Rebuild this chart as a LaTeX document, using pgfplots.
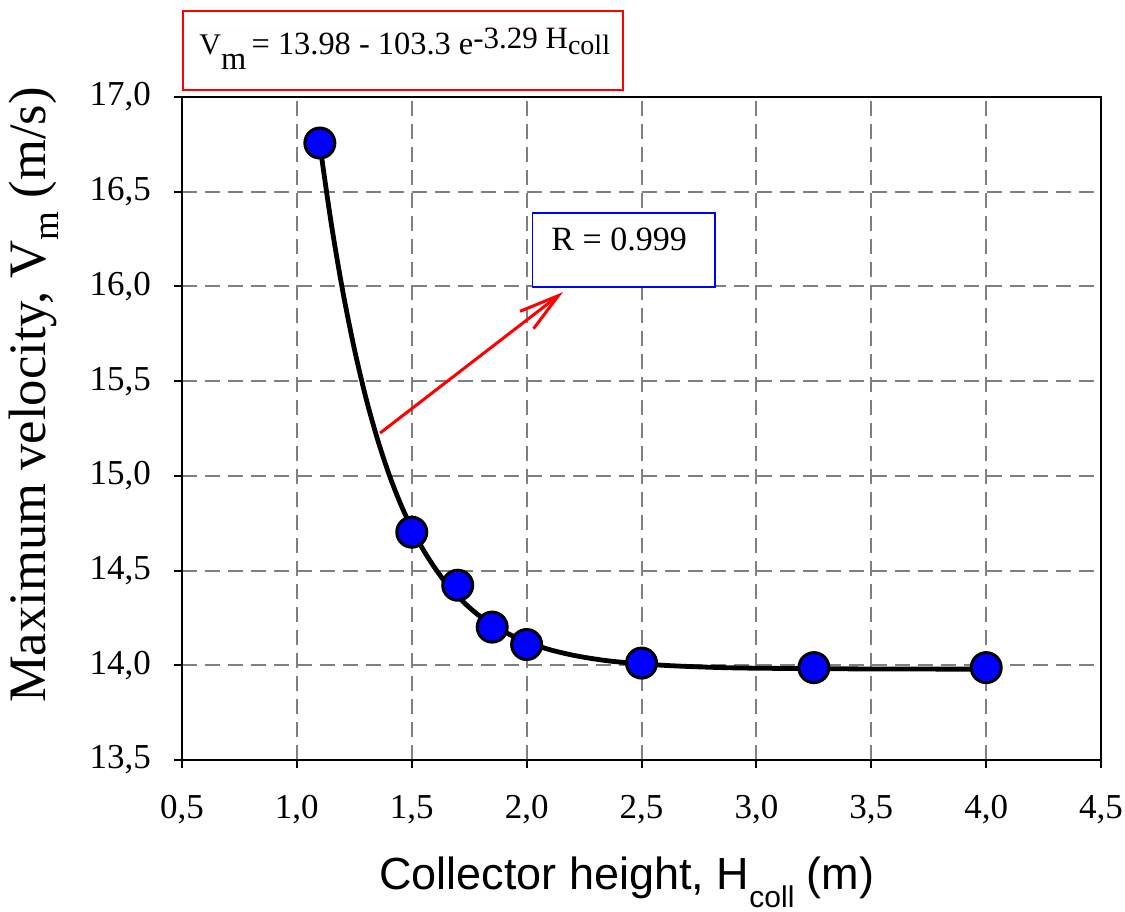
\documentclass[border=0pt]{standalone}
\usepackage{fontspec}
\setmainfont{Liberation Serif}
\newfontfamily\timesfont{Liberation Serif}
\newfontfamily\arialfont{Liberation Sans}
\usepackage{pgfplots}
\pgfplotsset{compat=1.18}
\usetikzlibrary{arrows.meta}

\definecolor{gridgray}{RGB}{128,128,128}
\definecolor{markblue}{RGB}{0,0,255}

\begin{document}
\begin{tikzpicture}
\begin{axis}[
    scale only axis,
    width=459.5bp, height=331.5bp,
    xmin=0.5, xmax=4.5, ymin=13.5, ymax=17,
    xtick={0.5,1.0,1.5,2.0,2.5,3.0,3.5,4.0,4.5},
    xticklabels={{0,5},{1,0},{1,5},{2,0},{2,5},{3,0},{3,5},{4,0},{4,5}},
    ytick={13.5,14.0,14.5,15.0,15.5,16.0,16.5,17.0},
    yticklabels={{13,5},{14,0},{14,5},{15,0},{15,5},{16,0},{16,5},{17,0}},
    clip=false,
    axis line style={line width=1bp},
    tick style={line width=1bp, black},
    major tick length=4bp,
    tick align=outside,
    xtick pos=bottom, ytick pos=left,
    grid=major,
    major grid style={gridgray, line width=1bp, dash pattern=on 7.5bp off 4bp},
    tick label style={font=\timesfont\fontsize{17.5bp}{20bp}\selectfont},
    xticklabel style={yshift=-10bp},
    yticklabel style={xshift=-8bp},
    xlabel={Collector height, H\raisebox{-9bp}{\fontsize{15bp}{15bp}\selectfont coll} (m)},
    xlabel style={font=\arialfont\fontsize{22.5bp}{26bp}\selectfont,
        at={(axis description cs:0.484,-0.1946)}, anchor=base},
    ylabel={Maximum velocity, V\raisebox{-6.5bp}{\fontsize{18.5bp}{18.5bp}\selectfont m} (m/s)},
    ylabel style={font=\timesfont\fontsize{26.3bp}{30bp}\selectfont,
        at={(axis description cs:-0.149,0.5505)}, anchor=base},
]
% measured points
\addplot[only marks, mark=*, mark size=7.5bp,
    mark options={fill=markblue, draw=black, line width=1.5bp}] coordinates {
    (1.10,16.757)
    (1.50,14.703)
    (1.70,14.423)
    (1.85,14.202)
    (2.00,14.110)
    (2.50,14.012)
    (3.25,13.988)
    (4.00,13.988)
};
% fitted curve
\addplot[black, line width=2.4bp, smooth] coordinates {
    (1.10,16.749) (1.15,16.329) (1.20,15.973) (1.25,15.671)
    (1.30,15.414) (1.35,15.197) (1.40,15.012) (1.45,14.856)
    (1.50,14.723) (1.55,14.610) (1.60,14.515) (1.65,14.433)
    (1.70,14.365) (1.75,14.306) (1.80,14.257) (1.90,14.179)
    (2.00,14.124) (2.10,14.083) (2.20,14.054) (2.30,14.033)
    (2.40,14.018) (2.60,14.000) (2.80,13.990) (3.00,13.985)
    (3.50,13.981) (4.00,13.980)
};

% equation box
\draw[red, line width=1bp, fill=white] (axis cs:0.504,17.037) rectangle (axis cs:2.419,17.456);
\node[anchor=base west, inner sep=0pt, font=\timesfont\fontsize{16.2bp}{20bp}\selectfont]
    at (axis cs:0.574,17.222)
    {{\fontsize{15bp}{17bp}\selectfont V}\raisebox{-7.5bp}{m}\,= 13.98 - 103.3 e\raisebox{3bp}{\fontsize{15.5bp}{17bp}\selectfont -3.29 H}{\fontsize{14bp}{15bp}\selectfont coll}};

% R box and arrow
\draw[blue, line width=0.75bp, fill=white] (axis cs:2.026,15.998) rectangle (axis cs:2.820,16.388);
\node[anchor=base west, inner sep=0pt, font=\timesfont\fontsize{17bp}{20bp}\selectfont]
    at (axis cs:2.106,16.188) {R = 0.999};
\draw[red, line width=1.5bp, -{Straight Barb[length=20bp, width=11bp]}]
    (axis cs:1.362,15.226) -- (axis cs:2.158,15.970);

\coordinate (bbsw) at (axis cs:-0.292,12.702);
\coordinate (bbne) at (axis cs:4.604,17.512);
\end{axis}
\pgfresetboundingbox
\path[use as bounding box] (bbsw) rectangle (bbne);
\end{tikzpicture}
\end{document}
